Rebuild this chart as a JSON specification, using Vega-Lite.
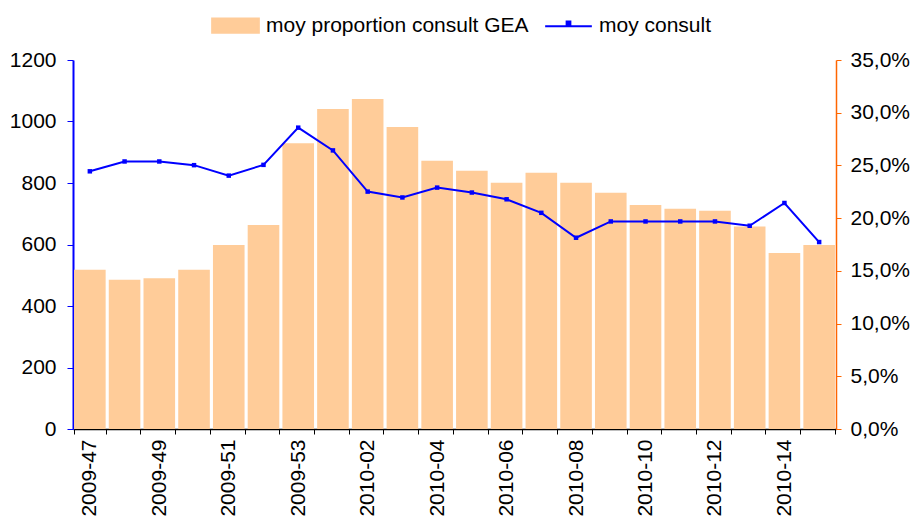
{
  "$schema": "https://vega.github.io/schema/vega-lite/v6.json",
  "width": 763,
  "height": 369,
  "autosize": {"type": "none"},
  "padding": {"left": 73, "top": 60, "right": 78, "bottom": 93},
  "background": "white",
  "config": {
    "view": {"stroke": null},
    "font": "Liberation Sans",
    "axis": {"labelFont": "Liberation Sans", "labelFontSize": 21, "labelColor": "#000000", "grid": false, "title": null}
  },
  "data": {
    "values": [
      {"week": "2009-47", "prop": 0.151, "consult": 838},
      {"week": "2009-48", "prop": 0.1415, "consult": 870},
      {"week": "2009-49", "prop": 0.143, "consult": 870},
      {"week": "2009-50", "prop": 0.151, "consult": 858},
      {"week": "2009-51", "prop": 0.1745, "consult": 824},
      {"week": "2009-52", "prop": 0.1935, "consult": 859},
      {"week": "2009-53", "prop": 0.271, "consult": 980},
      {"week": "2010-01", "prop": 0.3035, "consult": 906},
      {"week": "2010-02", "prop": 0.313, "consult": 772},
      {"week": "2010-03", "prop": 0.2865, "consult": 753},
      {"week": "2010-04", "prop": 0.2545, "consult": 785},
      {"week": "2010-05", "prop": 0.245, "consult": 769},
      {"week": "2010-06", "prop": 0.2335, "consult": 747},
      {"week": "2010-07", "prop": 0.243, "consult": 703},
      {"week": "2010-08", "prop": 0.2335, "consult": 622},
      {"week": "2010-09", "prop": 0.224, "consult": 675},
      {"week": "2010-10", "prop": 0.2125, "consult": 675},
      {"week": "2010-11", "prop": 0.209, "consult": 675},
      {"week": "2010-12", "prop": 0.207, "consult": 675},
      {"week": "2010-13", "prop": 0.192, "consult": 661},
      {"week": "2010-14", "prop": 0.167, "consult": 735},
      {"week": "2010-15", "prop": 0.1745, "consult": 608}
    ]
  },
  "layer": [
    {
      "mark": {"type": "bar"},
      "encoding": {
        "x": {
          "field": "week", "type": "ordinal", "sort": null,
          "scale": {"paddingInner": 0.09, "paddingOuter": 0.03},
          "axis": {
            "title": null, "labelAngle": -90, "tickBand": "extent", "tickSize": 5,
            "domainColor": "#000000", "tickColor": "#000000", "domainWidth": 1.5,
            "labelPadding": 5,
            "labelExpr": "indexof(['2009-47','2009-49','2009-51','2009-53','2010-02','2010-04','2010-06','2010-08','2010-10','2010-12','2010-14'], datum.value) >= 0 ? datum.label : ''"
          }
        },
        "y": {
          "field": "prop", "type": "quantitative",
          "scale": {"domain": [0, 0.35], "nice": false, "zero": true},
          "axis": {
            "orient": "right", "title": null,
            "values": [0, 0.05, 0.1, 0.15, 0.2, 0.25, 0.3, 0.35],
            "labelExpr": "replace(format(datum.value, '.1%'), '.', ',')",
            "domainColor": "#FF6600", "tickColor": "#FF6600", "domainWidth": 1.5,
            "tickSize": 5, "labelPadding": 9
          }
        },
        "color": {
          "datum": "moy proportion consult GEA",
          "scale": {"domain": ["moy proportion consult GEA", "moy consult"], "range": ["#FFCC99", "#0000FF"]},
          "legend": {
            "title": null, "orient": "none", "direction": "horizontal",
            "legendX": 138, "legendY": -59, "padding": 0,
            "labelFont": "Liberation Sans", "labelFontSize": 21, "labelColor": "#000000", "labelLimit": 0,
            "symbolSize": 2181, "labelOffset": 6, "columnPadding": 12,
            "encode": {
              "symbols": {
                "update": {
                  "shape": {"signal": "datum.value === 'moy consult' ? 'M-1,0H1M-0.08,-0.2H0.08V-0.02H-0.08Z' : 'M-1,-0.31H1V0.31H-1Z'"},
                  "fill": {"signal": "datum.value === 'moy consult' ? '#0000FF' : '#FFCC99'"},
                  "stroke": {"signal": "datum.value === 'moy consult' ? '#0000FF' : 'transparent'"},
                  "strokeWidth": {"value": 2},
                  "opacity": {"value": 1}
                }
              }
            }
          }
        }
      }
    },
    {
      "mark": {"type": "line", "strokeWidth": 2, "point": {"shape": "square", "size": 20, "filled": true, "color": "#0000FF"}},
      "encoding": {
        "x": {"field": "week", "type": "ordinal", "sort": null},
        "y": {
          "field": "consult", "type": "quantitative",
          "scale": {"domain": [0, 1200], "nice": false},
          "axis": {
            "orient": "left", "title": null, "format": "d",
            "values": [0, 200, 400, 600, 800, 1000, 1200],
            "domainColor": "#0000FF", "tickColor": "#0000FF", "domainWidth": 2,
            "tickSize": 6, "labelPadding": 11
          }
        },
        "color": {"datum": "moy consult"}
      }
    }
  ],
  "resolve": {"scale": {"y": "independent"}}
}
